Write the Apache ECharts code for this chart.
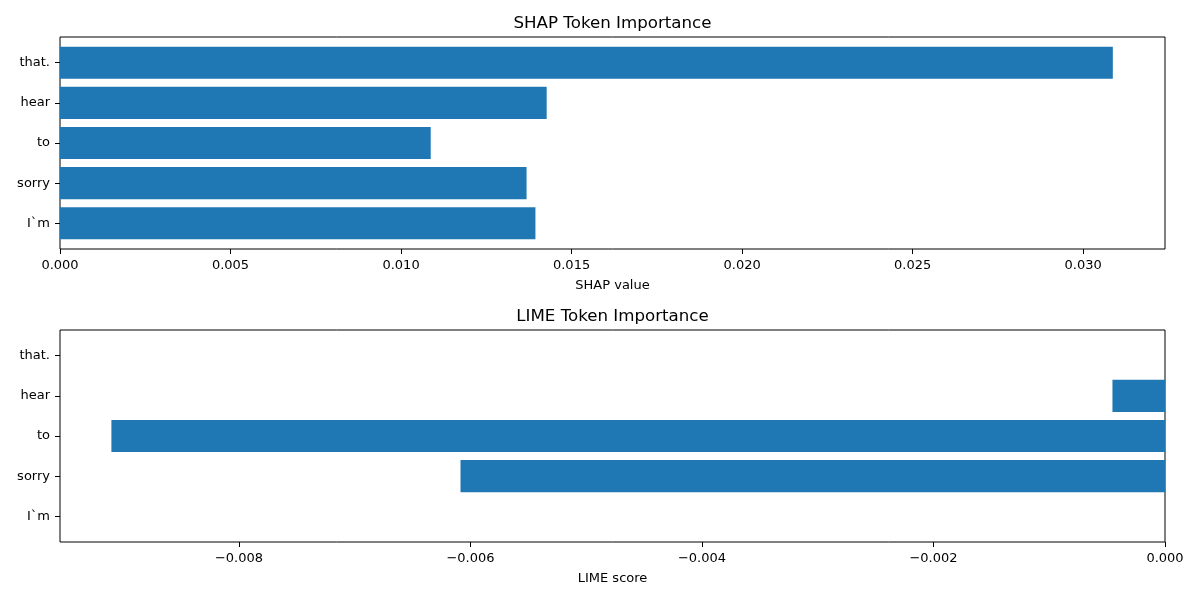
<!DOCTYPE html>
<html>
<head>
<meta charset="utf-8">
<script src="https://cdn.jsdelivr.net/npm/echarts@6/dist/echarts.min.js"></script>
<style>html,body{margin:0;padding:0;background:#fff;}#c{width:1200px;height:600px;}</style>
</head>
<body>
<div id="c"></div>
<script>
const tokens = ['I`m', 'sorry', 'to', 'hear', 'that.'];
const shapValues = [0.01394, 0.01368, 0.01087, 0.01427, 0.03087];
const limeValues = [0, -0.006086, -0.009102, -0.000454, 0];
const shapTicks = [0, 0.005, 0.010, 0.015, 0.020, 0.025, 0.030];
const limeTicks = [-0.008, -0.006, -0.004, -0.002, 0];
const shapRange = [0, 0.03240];
const limeRange = [-0.009546, 0];
const titles = ['SHAP Token Importance', 'LIME Token Importance'];
const axisNames = ['SHAP value', 'LIME score'];

const FONT = 'DejaVu Sans';
const frameLeft = 60, frameW = 1105, frameH = 212;
const frameTops = [37, 330];
// matplotlib-like y limits: bars of height 0.8 with 5% margins
const yPad = 0.14 / 5.28 * frameH;
const innerH = frameH - 2 * yPad;

function fmt(v) {
  const s = Math.abs(v).toFixed(3);
  return v < 0 ? '\u2212' + s : s;
}

const grids = [], xAxes = [], yAxes = [], series = [];
frameTops.forEach((t, i) => {
  grids.push({ left: frameLeft, top: t, width: frameW, height: frameH, show: true,
    borderColor: '#000', borderWidth: 1, backgroundColor: 'transparent', containLabel: false });
  xAxes.push({ gridIndex: i, type: 'value', show: false, min: 0, max: 1 });
  yAxes.push({ gridIndex: i, type: 'value', show: false, min: 0, max: 1 });
});
const datasets = [shapValues, limeValues];
const ranges = [shapRange, limeRange];
const ticks = [shapTicks, limeTicks];
frameTops.forEach((t, i) => {
  const gi = grids.length;
  grids.push({ left: frameLeft, top: t + yPad, width: frameW, height: innerH, show: false, containLabel: false });
  xAxes.push({
    gridIndex: gi, type: 'value', min: ranges[i][0], max: ranges[i][1],
    offset: yPad, position: 'bottom',
    axisLine: { show: false, onZero: false },
    splitLine: { show: false },
    axisTick: { show: true, length: 5, lineStyle: { color: '#000', width: 1 }, customValues: ticks[i] },
    axisLabel: { show: true, margin: 10, color: '#000', fontFamily: FONT, fontSize: 13,
      customValues: ticks[i], formatter: fmt },
    name: axisNames[i], nameLocation: 'middle', nameGap: 30,
    nameTextStyle: { color: '#000', fontFamily: FONT, fontSize: 13 }
  });
  yAxes.push({
    gridIndex: gi, type: 'category', data: tokens, position: 'left',
    axisLine: { show: false, onZero: false },
    axisTick: { show: true, alignWithLabel: true, length: 5, lineStyle: { color: '#000', width: 1 } },
    axisLabel: { margin: 10, color: '#000', fontFamily: FONT, fontSize: 13 },
    splitLine: { show: false }
  });
  series.push({
    type: 'bar', xAxisIndex: gi, yAxisIndex: gi, data: datasets[i],
    barWidth: '80%', itemStyle: { color: '#1f77b4' }, silent: true
  });
});

const option = {
  animation: false,
  backgroundColor: '#fff',
  title: titles.map((txt, i) => ({
    text: txt, left: frameLeft + frameW / 2 - 5, top: frameTops[i] - 27, textAlign: 'center',
    textStyle: { color: '#000', fontFamily: FONT, fontSize: 16.67, fontWeight: 'normal' }
  })),
  grid: grids, xAxis: xAxes, yAxis: yAxes, series: series
};
const chart = echarts.init(document.getElementById('c'), null, { renderer: 'canvas' });
chart.setOption(option);
</script>
</body>
</html>
